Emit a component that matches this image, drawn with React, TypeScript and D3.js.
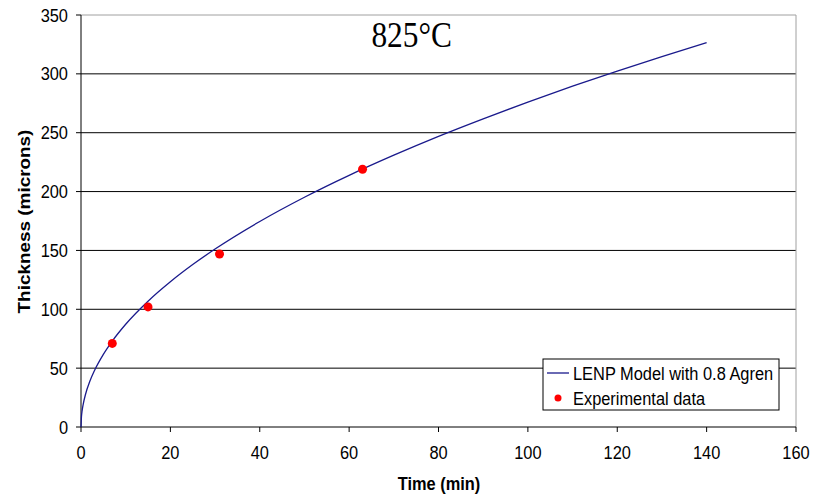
import React from "react";
import * as d3 from "d3";

const modelTime = [0, 0.1, 0.25, 0.5, 1, 2, 3, 5, 7, 10, 15, 20, 25, 30, 40, 50, 60, 70, 80, 90, 100, 110, 120, 130, 140];
const modelThickness = [0, 8.7, 13.8, 19.5, 27.6, 39, 47.8, 61.7, 73, 87.3, 106.9, 123.4, 138, 151.2, 174.6, 195.2, 213.8, 230.9, 246.9, 261.8, 276, 289.5, 302.3, 314.7, 326.6];
const expTime = [7, 15, 31, 63];
const expThickness = [71, 102, 147, 219];
const xTicks = [0, 20, 40, 60, 80, 100, 120, 140, 160];
const yTicks = [0, 50, 100, 150, 200, 250, 300, 350];
const seriesNames = ["LENP Model with 0.8 Agren", "Experimental data"];

const FONT = "'Liberation Sans', Arial, sans-serif";
const SY = 1.14;
const FS = 16.4;

function T(props: { x: number; y: number; anchor?: string; center?: boolean; bold?: boolean; size?: number; family?: string; children: any }) {
  const { x, y, anchor = "start", center = false, bold = false, size = FS, family = FONT, children } = props;
  return (
    <text
      transform={`translate(${x},${y}) scale(1,${SY})`}
      textAnchor={anchor}
      dy={center ? "0.35em" : undefined}
      fontFamily={family}
      fontWeight={bold ? "bold" : "normal"}
      fontSize={size}
      fill="#000"
    >
      {children}
    </text>
  );
}

export default function App() {
  const W = 824, H = 494;
  const left = 81, right = 796, top = 15, bottom = 427;
  const x = d3.scaleLinear().domain([0, 160]).range([left, right]);
  const y = d3.scaleLinear().domain([0, 350]).range([bottom, top]);
  const line = d3.line<number>().x((d, i) => x(modelTime[i])).y((d) => y(d)).curve(d3.curveMonotoneX);
  return (
    <svg width={W} height={H} style={{ position: "absolute", left: 0, top: 0, background: "#fff" }}>
      <rect x={0} y={0} width={W} height={H} fill="#fff" />
      {yTicks.filter((t) => t > 0 && t < 350).map((t) => (
        <line key={t} x1={left} x2={right} y1={y(t)} y2={y(t)} stroke="#000" strokeWidth={1} />
      ))}
      <line x1={left} x2={right} y1={top} y2={top} stroke="#a0a0a0" strokeWidth={1} />
      <line x1={right} x2={right} y1={top} y2={bottom} stroke="#a0a0a0" strokeWidth={1} />
      <line x1={left} x2={left} y1={top} y2={bottom} stroke="#000" strokeWidth={1} />
      <line x1={left} x2={right} y1={bottom} y2={bottom} stroke="#000" strokeWidth={1} />
      {yTicks.map((t) => (
        <g key={"y" + t}>
          <line x1={left - 5} x2={left} y1={y(t)} y2={y(t)} stroke="#000" />
          <T x={68} y={y(t)} anchor="end" center>{t}</T>
        </g>
      ))}
      {xTicks.map((t) => (
        <g key={"x" + t}>
          <line x1={x(t)} x2={x(t)} y1={bottom} y2={bottom + 5} stroke="#000" />
          <T x={x(t)} y={452.5} anchor="middle" center>{t}</T>
        </g>
      ))}
      <path d={line(modelThickness) || ""} fill="none" stroke="#1a1a8c" strokeWidth={1.3} />
      {expTime.map((t, i) => (
        <circle key={i} cx={x(t)} cy={y(expThickness[i])} r={4.5} fill="#ff0000" />
      ))}
      <T x={411.7} y={47.3} anchor="middle" size={31.4} family="'Liberation Serif', 'Times New Roman', serif">825°C</T>
      <T x={439} y={490} anchor="middle" bold>Time (min)</T>
      <text
        transform={`translate(30,221.5) rotate(-90) scale(${SY},1)`}
        textAnchor="middle"
        fontFamily={FONT}
        fontWeight="bold"
        fontSize={16.6}
        fill="#000"
      >
        Thickness (microns)
      </text>
      <rect x={543} y={359} width={236} height={51} fill="#fff" stroke="#000" strokeWidth={1} />
      <line x1={547} x2={569} y1={373} y2={373} stroke="#1a1a8c" strokeWidth={1.3} />
      <T x={573} y={373} center>{seriesNames[0]}</T>
      <circle cx={558} cy={398} r={3.5} fill="#ff0000" />
      <T x={573} y={398} center>{seriesNames[1]}</T>
    </svg>
  );
}
